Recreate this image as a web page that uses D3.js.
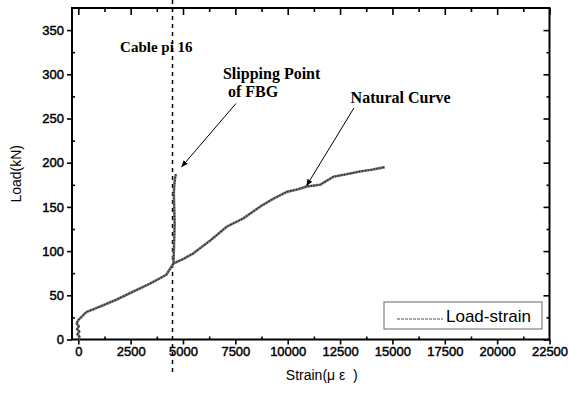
<!DOCTYPE html>
<html>
<head>
<meta charset="utf-8">
<script src="https://cdn.jsdelivr.net/npm/d3@7/dist/d3.min.js"></script>
<style>
  html, body { margin: 0; padding: 0; background: #fff; }
  svg { display: block; }
  .tick text { font-family: Arial, "Liberation Sans", sans-serif; font-size: 13px; fill: #000; stroke: #000; stroke-width: 0.45px; }
  .note { font-family: "Times New Roman", "Liberation Serif", serif; font-weight: bold; fill: #000; }
</style>
</head>
<body>
<svg id="chart" width="569" height="394"></svg>
<script>
// FBG sensor reading: rises with the cable, then sticks at the slip strain
const fbgStrain = [0, 60, -40, 50, -60, 30, -80, 0, 381, 1016, 1812, 2607, 3400, 4195, 4544, 4575, 4600, 4580, 4560, 4590, 4620, 4660];
const fbgLoad   = [0, 3, 6, 9, 12, 15, 18, 22, 31, 37, 45, 54, 63, 73, 86, 110, 130, 150, 165, 176, 183, 187];

// Natural load-strain curve after the junction
const naturalStrain = [4544, 5000, 5497, 6300, 7090, 7880, 8677, 9300, 9950, 10500, 10903, 11537, 12172, 12800, 13444, 14000, 14636];
const naturalLoad   = [86, 91, 97.5, 112, 127.6, 137, 150.2, 159, 167, 170, 173, 175, 184, 187, 190, 192, 195];

// Axis ticks
const xMajorTicks = [0, 2500, 5000, 7500, 10000, 12500, 15000, 17500, 20000, 22500];
const xMinorTicks = [1250, 3750, 6250, 8750, 11250, 13750, 16250, 18750, 21250];
const yMajorTicks = [0, 50, 100, 150, 200, 250, 300, 350];
const yMinorTicks = [25, 75, 125, 175, 225, 275, 325];

// Reference line for the cable (strain where the FBG slips)
const cableStrain = 4500;

// Annotations: [text, strain, load, font size] and arrows [fromStrain, fromLoad, toStrain, toLoad]
const notes = [
  ["Cable pi 16", 1996, 325, 15],
  ["Slipping Point", 6909, 294.5, 16],
  ["of FBG", 7148, 274, 16],
  ["Natural Curve", 13003, 268, 16]
];
const arrows = [
  [7530, 267, 4937, 195.4],
  [13164, 262, 10903, 174]
];

const svg = d3.select("#chart");
const plotLeft = 72, plotRight = 549.5, plotTop = 8, plotBottom = 339.5;

const x = d3.scaleLinear().domain([-300, 22500]).range([plotLeft, plotRight]);
const y = d3.scaleLinear().domain([0, 375]).range([plotBottom, plotTop]);

svg.append("defs").append("marker")
  .attr("id", "arrowhead")
  .attr("viewBox", "0 0 10 10")
  .attr("refX", 9).attr("refY", 5)
  .attr("markerWidth", 7).attr("markerHeight", 7)
  .attr("markerUnits", "userSpaceOnUse")
  .attr("orient", "auto")
  .append("path").attr("d", "M0,1 L10,5 L0,9 Z").attr("fill", "#000");

function styleAxis(g) {
  g.select(".domain").remove();
  g.selectAll(".tick line").attr("stroke", "#000").attr("stroke-width", 1.6);
}

// Bottom axis: major ticks outward with labels, minor ticks inward
svg.append("g").attr("transform", `translate(0,${plotBottom})`)
  .call(d3.axisBottom(x).tickValues(xMajorTicks).tickSize(5).tickPadding(2).tickFormat(d3.format("d")))
  .call(styleAxis);
svg.append("g").attr("transform", `translate(0,${plotBottom})`)
  .call(d3.axisTop(x).tickValues(xMinorTicks).tickSize(3).tickFormat(""))
  .call(styleAxis);

// Top axis: inward ticks only
svg.append("g").attr("transform", `translate(0,${plotTop})`)
  .call(d3.axisBottom(x).tickValues(xMajorTicks).tickSize(7).tickFormat(""))
  .call(styleAxis);
svg.append("g").attr("transform", `translate(0,${plotTop})`)
  .call(d3.axisBottom(x).tickValues(xMinorTicks).tickSize(4).tickFormat(""))
  .call(styleAxis);

// Left axis: major ticks outward with labels, minor ticks inward
svg.append("g").attr("transform", `translate(${plotLeft},0)`)
  .call(d3.axisLeft(y).tickValues(yMajorTicks).tickSize(5).tickPadding(3))
  .call(styleAxis);
svg.append("g").attr("transform", `translate(${plotLeft},0)`)
  .call(d3.axisRight(y).tickValues(yMinorTicks).tickSize(3).tickFormat(""))
  .call(styleAxis);

// Right axis: inward ticks only
svg.append("g").attr("transform", `translate(${plotRight},0)`)
  .call(d3.axisLeft(y).tickValues(yMajorTicks).tickSize(6).tickFormat(""))
  .call(styleAxis);
svg.append("g").attr("transform", `translate(${plotRight},0)`)
  .call(d3.axisLeft(y).tickValues(yMinorTicks).tickSize(3).tickFormat(""))
  .call(styleAxis);

// Frame
svg.append("rect")
  .attr("x", plotLeft).attr("y", plotTop)
  .attr("width", plotRight - plotLeft).attr("height", plotBottom - plotTop)
  .attr("fill", "none").attr("stroke", "#000").attr("stroke-width", 2);

// Dashed cable line, running past the frame at both ends
svg.append("line")
  .attr("x1", x(cableStrain)).attr("x2", x(cableStrain))
  .attr("y1", 0).attr("y2", plotBottom + 33)
  .attr("stroke", "#000").attr("stroke-width", 1.5)
  .attr("stroke-dasharray", "4,4");

// Data curves
const line = d3.line().x(d => x(d[0])).y(d => y(d[1]));
const fbg = d3.zip(fbgStrain, fbgLoad);
const natural = d3.zip(naturalStrain, naturalLoad);

[fbg, natural].forEach(series => {
  svg.append("path").datum(series)
    .attr("d", line).attr("fill", "none")
    .attr("stroke", "#777").attr("stroke-width", 2.6)
    .attr("stroke-linejoin", "round");
  svg.append("path").datum(series)
    .attr("d", line).attr("fill", "none")
    .attr("stroke", "#2a2a2a").attr("stroke-width", 1.5)
    .attr("stroke-dasharray", "1.5,1.5");
});

// Annotation arrows
arrows.forEach(a => {
  svg.append("line")
    .attr("x1", x(a[0])).attr("y1", y(a[1]))
    .attr("x2", x(a[2])).attr("y2", y(a[3]))
    .attr("stroke", "#000").attr("stroke-width", 1)
    .attr("marker-end", "url(#arrowhead)");
});

// Annotation text
notes.forEach(n => {
  svg.append("text").attr("class", "note")
    .attr("x", x(n[1])).attr("y", y(n[2]))
    .attr("font-size", n[3] + "px")
    .text(n[0]);
});

// Legend
const legend = svg.append("g");
legend.append("rect")
  .attr("x", 384).attr("y", 302).attr("width", 158).attr("height", 27)
  .attr("fill", "#fff").attr("stroke", "#666").attr("stroke-width", 1);
legend.append("line")
  .attr("x1", 397).attr("x2", 443).attr("y1", 319).attr("y2", 319)
  .attr("stroke", "#8a8a8a").attr("stroke-width", 1.4)
  .attr("stroke-dasharray", "3,1");
legend.append("text")
  .attr("x", 446).attr("y", 322)
  .attr("font-family", "Arial, 'Liberation Sans', sans-serif")
  .attr("font-size", "17px").attr("fill", "#000")
  .text("Load-strain");

// Axis titles
svg.append("text")
  .attr("x", (plotLeft + plotRight) / 2 + 11).attr("y", 380)
  .attr("text-anchor", "middle")
  .attr("font-family", "Arial, 'Liberation Sans', sans-serif")
  .attr("font-size", "14px").attr("fill", "#000")
  .attr("xml:space", "preserve")
  .text("Strain(\u03bc \u03b5  )");

svg.append("text")
  .attr("transform", `translate(21,${(plotTop + plotBottom) / 2}) rotate(-90)`)
  .attr("text-anchor", "middle")
  .attr("font-family", "Arial, 'Liberation Sans', sans-serif")
  .attr("font-size", "14px").attr("fill", "#000")
  .text("Load(kN)");
</script>
</body>
</html>
